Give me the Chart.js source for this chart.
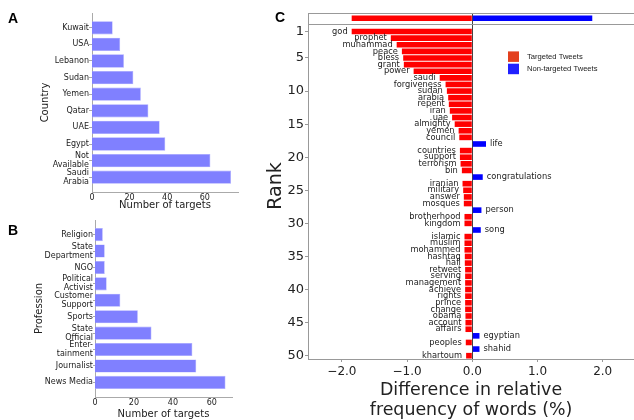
<!DOCTYPE html>
<html>
<head>
<meta charset="utf-8">
<title>Targets by country and profession, and word usage by rank</title>
<script src="https://cdn.jsdelivr.net/npm/chart.js@4.4.1/dist/chart.umd.min.js"></script>
<style>
  html, body { margin: 0; padding: 0; background: #fff; }
  #figure { position: relative; width: 634px; height: 420px; overflow: hidden; background: #fff; }
  #figure canvas { position: absolute; }
  .panel-tag { position: absolute; font: bold 14px "Liberation Sans", Arial, sans-serif; line-height: 14px; color: #000; }
</style>
</head>
<body>
<div id="figure">
  <canvas id="countryChart" width="245" height="214" style="left:0;top:0"></canvas>
  <canvas id="professionChart" width="245" height="208" style="left:0;top:212px"></canvas>
  <canvas id="wordChart" width="384" height="420" style="left:250px;top:0"></canvas>
  <div class="panel-tag" style="left:8px;top:11px">A</div>
  <div class="panel-tag" style="left:8px;top:223px">B</div>
  <div class="panel-tag" style="left:275px;top:10px">C</div>
</div>
<script>
// ---------- data ----------
const countries = ['Kuwait', 'USA', 'Lebanon', 'Sudan', 'Yemen', 'Qatar', 'UAE', 'Egypt',
  ['Not', 'Available'], ['Saudi', 'Arabia']];
const countryTargets = [11, 15, 17, 22, 26, 30, 36, 39, 63, 74];

const professions = ['Religion', ['State', 'Department'], 'NGO', ['Political', 'Activist'],
  ['Customer', 'Support'], 'Sports', ['State', 'Official'], ['Enter-', 'tainment'],
  'Journalist', 'News Media'];
const professionTargets = [4, 5, 5, 6, 13, 22, 29, 50, 52, 67];

const targetTicks = [0, 20, 40, 60];

// words ranked 1..50 by difference in relative frequency (%)
const rankedWords = ['god', 'prophet', 'muhammad', 'peace', 'bless', 'grant', 'power', 'saudi',
  'forgiveness', 'sudan', 'arabia', 'repent', 'iran', 'uae', 'almighty', 'yemen', 'council',
  'life', 'countries', 'support', 'terrorism', 'bin', 'congratulations', 'iranian', 'military',
  'answer', 'mosques', 'person', 'brotherhood', 'kingdom', 'song', 'islamic', 'muslim',
  'mohammed', 'hashtag', 'hall', 'retweet', 'serving', 'management', 'achieve', 'rights',
  'prince', 'change', 'obama', 'account', 'affairs', 'egyptian', 'peoples', 'shahid', 'khartoum'];
const wordDiff = [-1.85, -1.25, -1.16, -1.08, -1.06, -1.05, -0.90, -0.50,
  -0.41, -0.39, -0.37, -0.36, -0.345, -0.31, -0.27, -0.21, -0.20,
  0.21, -0.19, -0.19, -0.18, -0.16, 0.16, -0.15, -0.14,
  -0.13, -0.13, 0.14, -0.12, -0.12, 0.13, -0.12, -0.12,
  -0.12, -0.115, -0.115, -0.11, -0.11, -0.11, -0.11, -0.11,
  -0.11, -0.11, -0.105, -0.105, -0.105, 0.11, -0.10, 0.11, -0.095];
// all-words bar pair shown in the strip above rank 1: [targeted, non-targeted]
const overallDiff = [-1.85, 1.84];

const rankTicks = [1, 5, 10, 15, 20, 25, 30, 35, 40, 45, 50];
const diffTicks = [-2, -1, 0, 1, 2];

// ---------- shared styling ----------
const FONT = '"DejaVu Sans", sans-serif';
const INK = '#222222';
const SPINE = '#aaaaaa';
Chart.defaults.font.family = FONT;
Chart.defaults.color = INK;

// ---------- panels A and B: horizontal count bars ----------
function countChart(id, labels, values, box) {
  const n = labels.length;
  const lo = -0.4, hi = n - 0.6, m = 0.05 * (hi - lo);
  return new Chart(document.getElementById(id), {
    type: 'bar',
    data: {
      datasets: [{
        data: values.map((v, i) => ({ x: v, y: i })),
        backgroundColor: '#8080ff',
        borderColor: '#a6a6ff',
        borderWidth: 0.6,
        barPercentage: 0.8,
        categoryPercentage: 1
      }]
    },
    options: {
      indexAxis: 'y',
      responsive: false,
      animation: false,
      layout: { padding: box.padding },
      plugins: { legend: { display: false }, tooltip: { enabled: false } },
      scales: {
        x: {
          type: 'linear',
          min: 0,
          max: Math.max(...values) * 1.05,
          afterBuildTicks: s => { s.ticks = targetTicks.map(v => ({ value: v })); },
          afterFit: s => { s.height = box.xHeight; },
          grid: { display: false, drawTicks: false },
          border: { color: SPINE },
          ticks: { font: { size: 8 }, color: INK, padding: 1, maxRotation: 0, autoSkip: false },
          title: { display: true, text: 'Number of targets', font: { size: 10 }, color: INK, padding: 0 }
        },
        y: {
          type: 'linear',
          offset: false,
          reverse: true,
          min: lo - m,
          max: hi + m,
          afterBuildTicks: s => { s.ticks = labels.map((_, i) => ({ value: i })); },
          afterFit: s => { s.width = box.yWidth; },
          grid: { offset: false, drawOnChartArea: false, drawTicks: true, tickLength: box.tickLen, color: SPINE },
          border: { color: SPINE },
          ticks: {
            font: { size: 8, lineHeight: 1.125 }, color: INK, padding: 0, autoSkip: false,
            callback: v => labels[v]
          },
          title: { display: true, text: box.yTitle, font: { size: 10 }, color: INK, padding: 0 }
        }
      }
    }
  });
}

countChart('countryChart', countries, countryTargets, {
  padding: { left: 39, top: 13, right: 7, bottom: 2.5 },
  yWidth: 53, xHeight: 19.5, tickLen: 3, yTitle: 'Country'
});
countChart('professionChart', professions, professionTargets, {
  padding: { left: 33.5, top: 8, right: 13, bottom: 0 },
  yWidth: 61.5, xHeight: 23, tickLen: 2, yTitle: 'Profession'
});

// ---------- panel C: ranked word differences ----------
const OVERALL_ROW = -1;     // strip slot above rank 1
const STRIP_EDGE = -0.2;    // boundary between the strip and the ranked rows

const targeted = { pts: [{ x: overallDiff[0], y: OVERALL_ROW }], words: [''] };
const nonTargeted = { pts: [{ x: overallDiff[1], y: OVERALL_ROW }], words: [''] };
rankedWords.forEach((w, i) => {
  const side = wordDiff[i] < 0 ? targeted : nonTargeted;
  side.pts.push({ x: wordDiff[i], y: i + 1 });
  side.words.push(w);
});

// word next to the free end of each bar
const wordLabels = {
  id: 'wordLabels',
  afterDatasetsDraw(chart) {
    const ctx = chart.ctx;
    ctx.save();
    ctx.font = '8.3px ' + FONT;
    ctx.fillStyle = INK;
    ctx.textBaseline = 'middle';
    chart.data.datasets.forEach((ds, di) => {
      chart.getDatasetMeta(di).data.forEach((bar, i) => {
        const word = ds.words[i];
        if (!word) return;
        const neg = ds.data[i].x < 0;
        ctx.textAlign = neg ? 'right' : 'left';
        ctx.fillText(word, bar.x + (neg ? -4 : 4), bar.y);
      });
    });
    ctx.restore();
  }
};

// frame of the strip: top edge and the line between strip and ranked rows
const stripFrame = {
  id: 'stripFrame',
  beforeDatasetsDraw(chart) {
    const { ctx, chartArea, scales } = chart;
    const yEdge = Math.round(scales.y.getPixelForValue(STRIP_EDGE)) + 0.5;
    const yTop = Math.round(chartArea.top) + 0.5;
    ctx.save();
    ctx.strokeStyle = '#999999';
    ctx.lineWidth = 1;
    ctx.beginPath();
    ctx.moveTo(chartArea.left, yTop); ctx.lineTo(chartArea.right, yTop);
    ctx.moveTo(chartArea.left, yEdge); ctx.lineTo(chartArea.right, yEdge);
    ctx.stroke();
    ctx.restore();
  }
};

// legend placed inside the plot area
const insetLegend = {
  id: 'insetLegend',
  afterDraw(chart, args, opts) {
    const { ctx, chartArea } = chart;
    const x0 = chartArea.left + opts.left;
    const y0 = chartArea.top + opts.top;
    ctx.save();
    ctx.font = '7.6px "Liberation Sans", Arial, sans-serif';
    ctx.textBaseline = 'middle';
    ctx.textAlign = 'left';
    chart.data.datasets.forEach((ds, k) => {
      const y = y0 + k * opts.step;
      ctx.fillStyle = ds.legendColor;
      ctx.fillRect(x0, y, opts.box, opts.box - 0.5);
      ctx.fillStyle = '#1a1a1a';
      ctx.fillText(ds.label, x0 + opts.box + 8, y + opts.box / 2);
    });
    ctx.restore();
  }
};

new Chart(document.getElementById('wordChart'), {
  type: 'bar',
  data: {
    datasets: [
      {
        label: 'Targeted Tweets', data: targeted.pts, words: targeted.words,
        backgroundColor: '#ff0000', legendColor: '#e3401e',
        barPercentage: 0.85, categoryPercentage: 1, grouped: false
      },
      {
        label: 'Non-targeted Tweets', data: nonTargeted.pts, words: nonTargeted.words,
        backgroundColor: '#0000ff', legendColor: '#2020ff',
        barPercentage: 0.85, categoryPercentage: 1, grouped: false
      }
    ]
  },
  options: {
    indexAxis: 'y',
    responsive: false,
    animation: false,
    layout: { padding: { left: 15, top: 13, right: 0, bottom: 0 } },
    plugins: {
      legend: { display: false },
      tooltip: { enabled: false },
      insetLegend: { left: 200, top: 38.4, step: 12.3, box: 11 }
    },
    scales: {
      x: {
        type: 'linear',
        min: -2.52,
        max: 2.48,
        afterBuildTicks: s => { s.ticks = diffTicks.map(v => ({ value: v })); },
        afterFit: s => { s.height = 61; },
        grid: {
          color: c => (c.tick && c.tick.value === 0 ? '#444444' : 'rgba(0,0,0,0)'),
          tickColor: '#999999', tickLength: 3, drawTicks: true
        },
        border: { color: '#999999' },
        ticks: {
          font: { size: 12 }, color: INK, padding: 3, maxRotation: 0, autoSkip: false,
          callback: v => v.toFixed(1).replace('-', '\u2212')
        },
        title: {
          display: true, text: ['Difference in relative', 'frequency of words (%)'],
          font: { size: 17.4, lineHeight: 1.15 }, color: INK, padding: 0
        }
      },
      y: {
        type: 'linear',
        offset: false,
        reverse: true,
        min: -1.8,
        max: 50.5,
        afterBuildTicks: s => { s.ticks = rankTicks.map(v => ({ value: v })); },
        afterFit: s => { s.width = 43; },
        grid: { offset: false, drawOnChartArea: false, tickLength: 3, color: '#999999' },
        border: { color: '#999999' },
        ticks: { font: { size: 13 }, color: INK, padding: 1, autoSkip: false, callback: v => String(v) },
        title: { display: true, text: 'Rank', font: { size: 19 }, color: INK, padding: 0 }
      }
    }
  },
  plugins: [stripFrame, wordLabels, insetLegend]
});
</script>
</body>
</html>
